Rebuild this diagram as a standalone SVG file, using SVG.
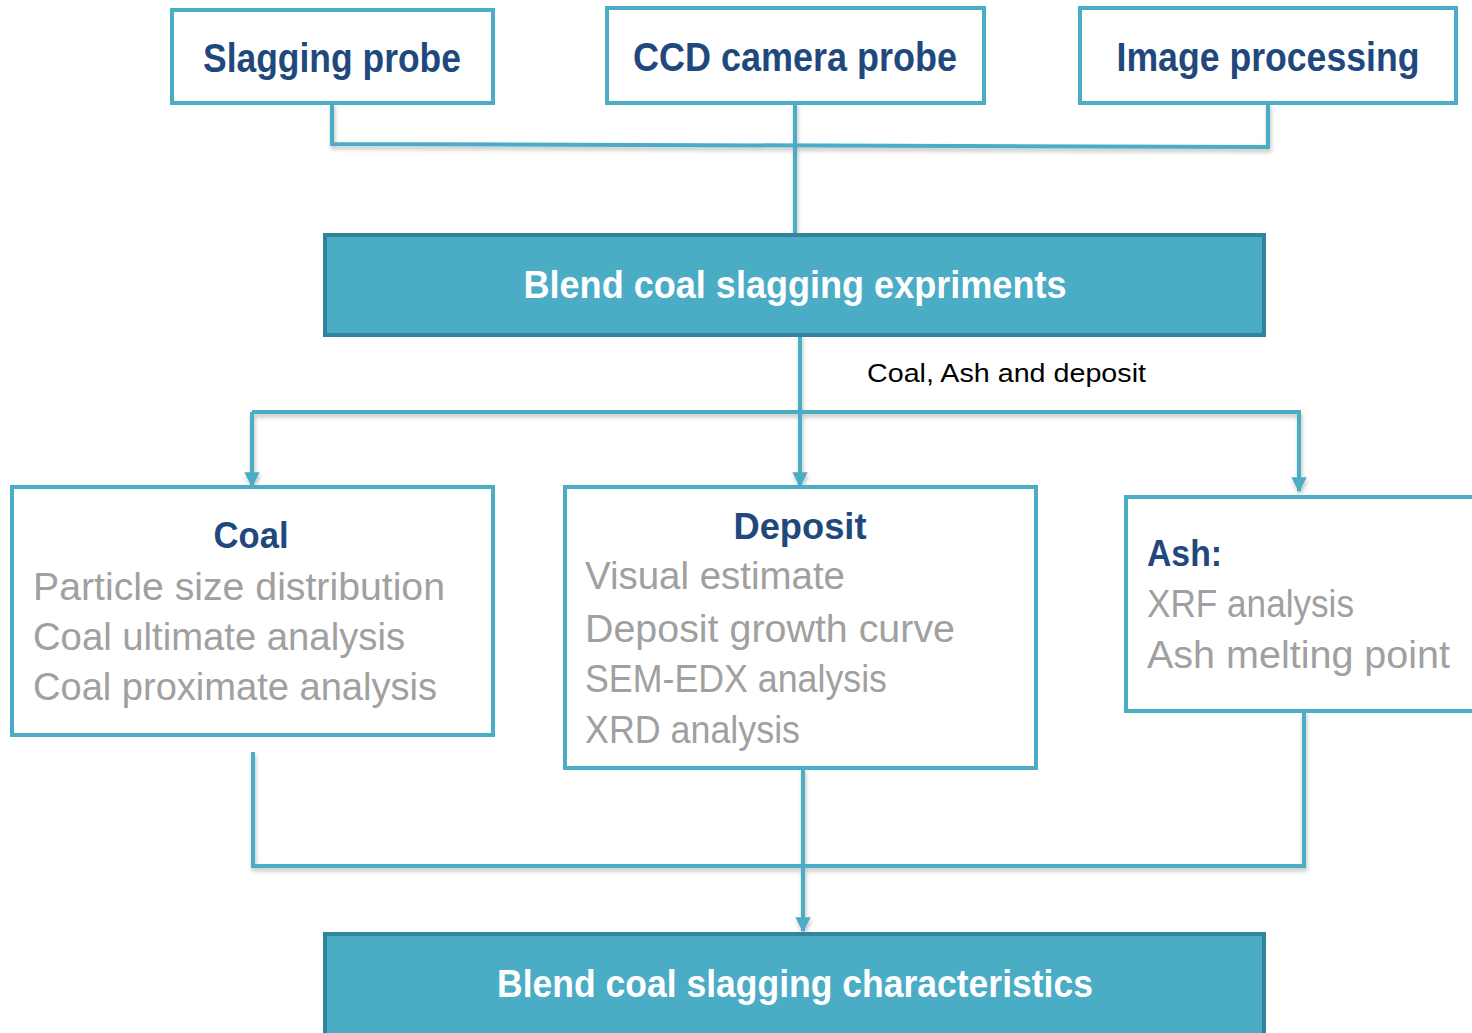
<svg xmlns="http://www.w3.org/2000/svg" width="1472" height="1033" viewBox="0 0 1472 1033">
<style>
  .box { fill: #ffffff; stroke: #4bacc6; stroke-width: 4; }
  .bar { fill: #4bacc6; stroke: #31849b; stroke-width: 4; }
  .conn { fill: none; stroke: #4bacc6; stroke-width: 4; stroke-linejoin: miter; }
  .head { font-family: "Liberation Sans", Arial, sans-serif; font-weight: bold; fill: #1f497d; }
  .white { font-family: "Liberation Sans", Arial, sans-serif; font-weight: bold; fill: #ffffff; font-size: 39px; }
  .gray { font-family: "Liberation Sans", Arial, sans-serif; fill: #a0a0a0; font-size: 38px; }
  .label { font-family: "Liberation Sans", Arial, sans-serif; fill: #000000; font-size: 26px; }
</style>
<defs>
  <marker id="arrow" viewBox="0 0 10 10" refX="9" refY="5" markerWidth="3.8" markerHeight="3.8" orient="auto" markerUnits="strokeWidth">
    <path d="M0,0 L10,5 L0,10 Z" fill="#4bacc6"/>
  </marker>
  <filter id="shadow" x="-5%" y="-50%" width="110%" height="200%">
    <feDropShadow dx="1" dy="3" stdDeviation="2" flood-color="#000000" flood-opacity="0.25"/>
  </filter>
</defs>
<rect width="1472" height="1033" fill="#ffffff"/>

<g id="connectors" filter="url(#shadow)">
  <polyline class="conn" points="332,103 332,144 1268,147 1268,103"/>
  <line class="conn" x1="795" y1="103" x2="795" y2="235"/>
  <line class="conn" x1="800" y1="335" x2="800" y2="412"/>
  <line class="conn" x1="252" y1="412" x2="1301" y2="412"/>
  <line class="conn" x1="252" y1="412" x2="252" y2="486" marker-end="url(#arrow)"/>
  <line class="conn" x1="800" y1="412" x2="800" y2="486" marker-end="url(#arrow)"/>
  <line class="conn" x1="1299" y1="412" x2="1299" y2="491" marker-end="url(#arrow)"/>
  <polyline class="conn" points="253,752 253,866 1304,866 1304,711"/>
  <line class="conn" x1="803" y1="768" x2="803" y2="931" marker-end="url(#arrow)"/>
</g>
<text id="connector-label" class="label" x="867" y="382" textLength="279" lengthAdjust="spacingAndGlyphs">Coal, Ash and deposit</text>

<g id="slagging-probe">
  <rect class="box" x="172" y="10" width="321" height="93"/>
  <text class="head" x="332" y="72" font-size="40" text-anchor="middle" textLength="258" lengthAdjust="spacingAndGlyphs">Slagging probe</text>
</g>
<g id="ccd-camera-probe">
  <rect class="box" x="607" y="8" width="377" height="95"/>
  <text class="head" x="795" y="71" font-size="40" text-anchor="middle" textLength="324" lengthAdjust="spacingAndGlyphs">CCD camera probe</text>
</g>
<g id="image-processing">
  <rect class="box" x="1080" y="8" width="376" height="95"/>
  <text class="head" x="1268" y="71" font-size="40" text-anchor="middle" textLength="303" lengthAdjust="spacingAndGlyphs">Image processing</text>
</g>

<g id="blend-experiments">
  <rect class="bar" x="325" y="235" width="939" height="100"/>
  <text class="white" x="795" y="298" text-anchor="middle" textLength="543" lengthAdjust="spacingAndGlyphs">Blend coal slagging expriments</text>
</g>

<g id="coal">
  <rect class="box" x="12" y="487" width="481" height="248"/>
  <text class="head" x="251" y="548" font-size="36" text-anchor="middle" textLength="75" lengthAdjust="spacingAndGlyphs">Coal</text>
  <text class="gray" x="33" y="600" textLength="412" lengthAdjust="spacingAndGlyphs">Particle size distribution</text>
  <text class="gray" x="33" y="650" textLength="372" lengthAdjust="spacingAndGlyphs">Coal ultimate analysis</text>
  <text class="gray" x="33" y="700" textLength="404" lengthAdjust="spacingAndGlyphs">Coal proximate analysis</text>
</g>

<g id="deposit">
  <rect class="box" x="565" y="487" width="471" height="281"/>
  <text class="head" x="800" y="539" font-size="37" text-anchor="middle" textLength="133" lengthAdjust="spacingAndGlyphs">Deposit</text>
  <text class="gray" x="585" y="589" textLength="260" lengthAdjust="spacingAndGlyphs">Visual estimate</text>
  <text class="gray" x="585" y="642" textLength="370" lengthAdjust="spacingAndGlyphs">Deposit growth curve</text>
  <text class="gray" x="585" y="692" textLength="302" lengthAdjust="spacingAndGlyphs">SEM-EDX analysis</text>
  <text class="gray" x="585" y="743" textLength="215" lengthAdjust="spacingAndGlyphs">XRD analysis</text>
</g>

<g id="ash">
  <rect class="box" x="1126" y="497" width="360" height="214"/>
  <text class="head" x="1147" y="566" font-size="36" textLength="75" lengthAdjust="spacingAndGlyphs">Ash:</text>
  <text class="gray" x="1147" y="617" textLength="207" lengthAdjust="spacingAndGlyphs">XRF analysis</text>
  <text class="gray" x="1147" y="668" textLength="303" lengthAdjust="spacingAndGlyphs">Ash melting point</text>
</g>

<g id="blend-characteristics">
  <rect class="bar" x="325" y="934" width="939" height="110"/>
  <text class="white" x="795" y="997" text-anchor="middle" textLength="596" lengthAdjust="spacingAndGlyphs">Blend coal slagging characteristics</text>
</g>
</svg>
